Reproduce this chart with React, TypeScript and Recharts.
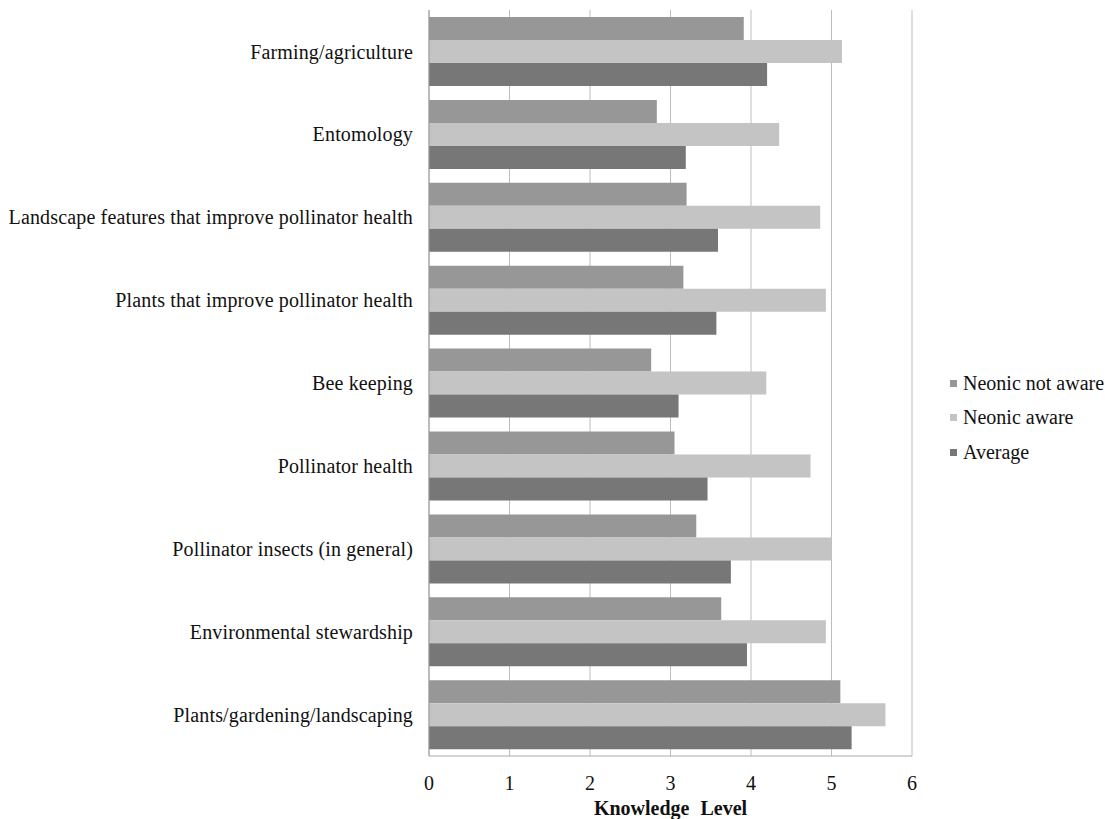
import { BarChart, Bar, XAxis, YAxis, CartesianGrid, Label } from "recharts";

const categories = [
  "Farming/agriculture",
  "Entomology",
  "Landscape features that improve pollinator health",
  "Plants that improve pollinator health",
  "Bee keeping",
  "Pollinator health",
  "Pollinator insects (in general)",
  "Environmental stewardship",
  "Plants/gardening/landscaping",
];

const notAware = [3.91, 2.83, 3.2, 3.16, 2.76, 3.05, 3.32, 3.63, 5.11];
const aware = [5.13, 4.35, 4.86, 4.93, 4.19, 4.74, 5.0, 4.93, 5.67];
const average = [4.2, 3.19, 3.59, 3.57, 3.1, 3.46, 3.75, 3.95, 5.25];

const xTicks = [0, 1, 2, 3, 4, 5, 6];

const seriesKeys = ["notAware", "aware", "average"];
const seriesNames = ["Neonic not aware", "Neonic aware", "Average"];
const colors = ["#979797", "#c4c4c4", "#777777"];

const data = categories.map((name, i) => ({
  name,
  notAware: notAware[i],
  aware: aware[i],
  average: average[i],
}));

const font = "'Liberation Serif', 'Times New Roman', serif";

export default function App() {
  return (
    <div style={{ position: "absolute", left: 0, top: 0, width: 1105, height: 819, background: "#fff" }}>
      <BarChart
        width={1105}
        height={819}
        data={data}
        layout="vertical"
        margin={{ top: 10, right: 193, bottom: 0, left: 0 }}
        barCategoryGap="8.5%"
        barGap={0}
      >
        <CartesianGrid horizontal={false} stroke="#bdbdbd" />
        <XAxis
          type="number"
          domain={[0, 6]}
          ticks={xTicks}
          height={63}
          axisLine={{ stroke: "#a8a8a8" }}
          tickLine={false}
          tickMargin={14}
          tick={{ fontFamily: font, fontSize: 20, fill: "#111" }}
        >
          <Label
            value="Knowledge Level"
            position="insideBottom"
            offset={4}
            style={{ fontFamily: font, fontSize: 20, fontWeight: "bold", fill: "#111", wordSpacing: 6 }}
          />
        </XAxis>
        <YAxis
          type="category"
          dataKey="name"
          width={429}
          axisLine={{ stroke: "#9a9a9a" }}
          tickLine={false}
          tickMargin={10}
          interval={0}
          tick={{ fontFamily: font, fontSize: 20, fill: "#111", letterSpacing: 0.15 }}
        />
        {seriesKeys.map((k, i) => (
          <Bar key={k} dataKey={k} name={seriesNames[i]} fill={colors[i]} isAnimationActive={false} />
        ))}
      </BarChart>
      <div style={{ position: "absolute", left: 950, top: 366, fontFamily: font, fontSize: 20, color: "#111" }}>
        {seriesNames.map((n, i) => (
          <div key={n} style={{ height: 34.5, display: "flex", alignItems: "center", whiteSpace: "nowrap" }}>
            <span style={{ display: "inline-block", width: 7, height: 7, background: colors[i], marginRight: 6 }} />
            <span>{n}</span>
          </div>
        ))}
      </div>
    </div>
  );
}
